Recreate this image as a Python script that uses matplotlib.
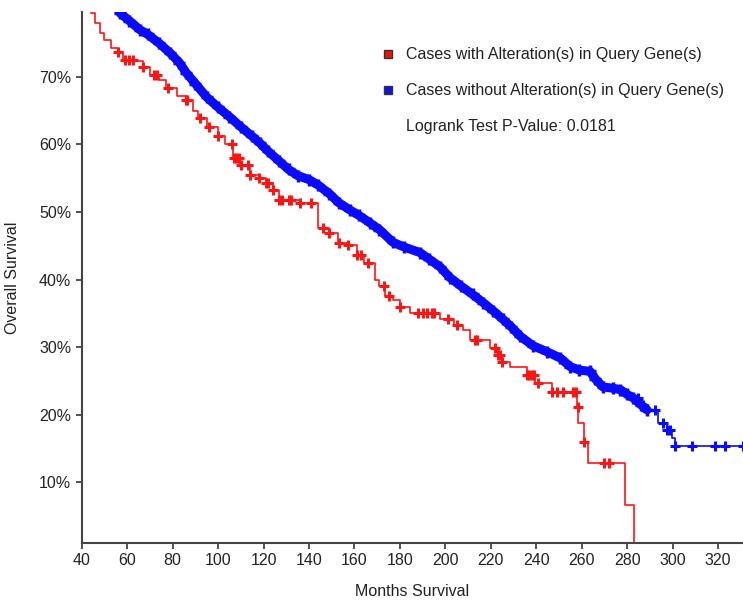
import numpy as np
import matplotlib
matplotlib.use('Agg')
import matplotlib.pyplot as plt
from matplotlib.ticker import FuncFormatter

plt.rcParams['font.family'] = ['Liberation Sans', 'DejaVu Sans']

# altered cases: step breakpoints (months, survival %)
red_t = [42, 44, 46, 48, 50, 53, 56, 58, 64, 67, 70, 74, 77, 82, 86, 89, 91, 95, 100, 103,
         106.5, 109.6, 114, 118, 121, 124, 127, 136, 144, 149, 152.7, 156.7, 161, 164, 169,
         171, 173.4, 177, 180, 184.4, 197.6, 204, 208, 211, 219.7, 223, 225, 228.5, 236,
         239.5, 247, 258, 258.6, 261, 263, 279, 283]
red_s = [80.5, 79.4, 78.0, 76.5, 75.5, 74.3, 73.7, 72.5, 72.4, 71.5, 70.3, 69.6, 68.4, 67.2,
         66.6, 65.0, 63.9, 62.6, 61.3, 60.0, 58.0, 57.0, 55.5, 55.0, 54.3, 53.3, 51.8, 51.4,
         47.7, 46.9, 45.4, 45.1, 43.7, 42.5, 40.0, 39.0, 37.6, 37.0, 36.0, 35.1, 34.1, 33.3,
         32.5, 31.1, 29.9, 28.9, 27.8, 27.0, 25.9, 24.7, 23.3, 21.2, 18.8, 16.0, 12.9, 6.6, 0.0]
red_cens = [56, 59, 61, 62.5, 67, 72, 73, 78, 86, 86.5, 92, 96, 100, 106, 107, 108, 109, 110,
            113, 114, 118, 121, 122, 124, 127, 128, 131, 132, 136, 141, 146, 149, 153, 157,
            161, 163, 166, 173, 175, 180, 188, 190, 192, 194, 195, 201, 205, 213, 214, 222,
            223, 224, 225, 236, 237, 238, 239, 241, 247, 249, 252, 256, 257.5, 258.3, 261,
            270, 272]

# unaltered cases
blue_t = [55, 57, 61, 65.5, 69, 74, 79, 83, 86, 90, 95, 100, 105, 110, 115, 118.4, 122, 127,
          131, 135, 140, 144, 149, 153, 158, 162, 166.8, 171, 177, 182, 188.8, 193, 197.6,
          202, 207, 212, 216.6, 221, 225.4, 229, 233, 238.6, 244.8, 250.5, 255, 259, 263.7,
          266, 269.4, 274, 277, 280, 282.6, 286, 288.8, 293.6, 297.6, 299.8, 301.1, 331]
blue_s = [80.5, 79.4, 78.3, 77.0, 76.3, 75.0, 73.5, 72.1, 70.6, 69.0, 67.0, 65.5, 64.1, 62.6,
          61.2, 60.2, 59.0, 57.5, 56.3, 55.4, 54.8, 54.0, 52.7, 51.4, 50.3, 49.5, 48.4, 47.4,
          45.5, 44.8, 44.0, 43.0, 41.9, 40.3, 39.0, 37.8, 36.6, 35.4, 34.1, 33.0, 31.6, 30.2,
          29.3, 28.4, 27.1, 26.6, 26.4, 25.3, 24.1, 23.9, 23.7, 23.0, 22.5, 21.5, 20.7, 18.8,
          17.8, 16.6, 15.3, 15.3]
blue_dense_end = 289
blue_cens = [285, 287, 292.3, 296, 297.6, 299, 301.1, 308.6, 318.7, 323, 331]

p_value = 0.0181

RED = '#ff1414'
BLUE = '#0a0aff'


def surv_at(t, st, ss):
    idx = np.searchsorted(st, t, side='right') - 1
    return np.array(ss)[np.clip(idx, 0, len(ss) - 1)]


fig = plt.figure(figsize=(7.43, 6.02), dpi=100)
ax = fig.add_axes([0.110, 0.098, 0.89, 0.882])

ax.step(red_t, red_s, where='post', color=RED, lw=1.2)
rc = np.array(red_cens)
ax.plot(rc, surv_at(rc, red_t, red_s), ls='none', marker='+', ms=7, mew=2.2, color=RED)

bt = np.array(blue_t)
bs = np.array(blue_s)
dense = bt <= blue_dense_end
# the dense censor marks merge into a solid band
ax.plot(bt[dense], bs[dense], color=BLUE, lw=6.5, solid_capstyle='round',
        marker='+', ms=8, mew=2.5)
tail = bt >= bt[dense][-1]
ax.step(bt[tail], bs[tail], where='post', color=BLUE, lw=1.2)
bc = np.array(blue_cens)
ax.plot(bc, surv_at(bc, blue_t, blue_s), ls='none', marker='+', ms=7, mew=2.2, color=BLUE)

ax.set_xlim(40, 331)
ax.set_ylim(1, 79.6)
ax.set_xticks(range(40, 321, 20))
ax.set_yticks(range(10, 71, 10))
ax.yaxis.set_major_formatter(FuncFormatter(lambda v, p: f'{v:.0f}%'))

for side in ['top', 'right']:
    ax.spines[side].set_visible(False)
for side in ['left', 'bottom']:
    ax.spines[side].set_color('#444444')
    ax.spines[side].set_linewidth(1.5)
ax.tick_params(colors='#444444', labelcolor='#222222', labelsize=11.5, length=4, width=1.3)

ax.set_xlabel('Months Survival', fontsize=11.5, color='#222222', labelpad=11)
ax.set_ylabel('Overall Survival', fontsize=11.5, color='#222222', labelpad=14)

# legend
lx, tx = 388 / 743, 406 / 743
fig.text(tx, 1 - 54 / 602, 'Cases with Alteration(s) in Query Gene(s)', va='center',
         fontsize=11.5, color='#222222')
fig.text(tx, 1 - 90 / 602, 'Cases without Alteration(s) in Query Gene(s)', va='center',
         fontsize=11.5, color='#222222')
fig.text(tx, 1 - 127 / 602, f'Logrank Test P-Value: {p_value}', va='center',
         fontsize=11.5, color='#222222')
fig.lines.append(plt.Line2D([lx], [1 - 54 / 602], transform=fig.transFigure, marker='s',
                            ms=5.5, mfc='#ee1111', mec='#333333', mew=1, ls='none'))
fig.lines.append(plt.Line2D([lx], [1 - 90 / 602], transform=fig.transFigure, marker='s',
                            ms=5.5, mfc='#1111ee', mec='#333333', mew=1, ls='none'))

fig.savefig('out.png', dpi=100)
